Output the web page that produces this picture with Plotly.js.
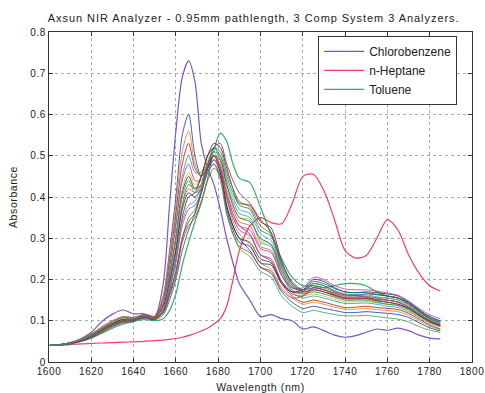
<!DOCTYPE html>
<html>
<head>
<meta charset="utf-8">
<script src="https://cdn.plot.ly/plotly-3.0.1.min.js"></script>
<style>
html,body{margin:0;padding:0;background:#fff;}
#chart{width:485px;height:393px;}
#chart text{letter-spacing:0.6px;}
#chart .gtitle{letter-spacing:0.95px;}
#chart .legendtext{letter-spacing:0;}
</style>
</head>
<body>
<div id="chart"></div>
<script>
// Wavelength grid (nm)
const wavelength = [1600,1605,1610,1615,1620,1625,1630,1635,1640,1645,1650,1654,1657,1660,1663,1666,1669,1672,1675,1678,1681,1684,1687,1690,1695,1700,1705,1710,1715,1720,1725,1730,1735,1740,1745,1750,1755,1760,1765,1770,1775,1780,1785];

// Pure components
const chlorobenzene = [0.040,0.042,0.047,0.056,0.072,0.098,0.116,0.126,0.117,0.117,0.111,0.190,0.380,0.560,0.690,0.730,0.680,0.530,0.470,0.430,0.370,0.300,0.240,0.190,0.150,0.110,0.115,0.105,0.100,0.080,0.085,0.076,0.065,0.060,0.064,0.072,0.080,0.077,0.082,0.076,0.065,0.058,0.056];
const nHeptane = [0.040,0.041,0.042,0.044,0.045,0.046,0.047,0.048,0.049,0.050,0.052,0.053,0.055,0.057,0.060,0.064,0.069,0.075,0.082,0.092,0.105,0.135,0.200,0.270,0.330,0.350,0.338,0.335,0.385,0.450,0.455,0.415,0.345,0.270,0.252,0.258,0.300,0.345,0.320,0.260,0.215,0.185,0.172];
const toluene = [0.040,0.041,0.044,0.050,0.058,0.070,0.082,0.092,0.098,0.103,0.100,0.105,0.125,0.165,0.235,0.290,0.340,0.385,0.445,0.515,0.555,0.535,0.480,0.445,0.435,0.375,0.310,0.250,0.205,0.185,0.185,0.180,0.185,0.190,0.190,0.185,0.170,0.160,0.155,0.145,0.125,0.105,0.095];

// Mixture spectra
const mix01 = [0.040,0.042,0.047,0.055,0.068,0.085,0.100,0.110,0.108,0.115,0.110,0.160,0.270,0.400,0.550,0.600,0.500,0.450,0.470,0.500,0.460,0.380,0.330,0.300,0.270,0.230,0.215,0.170,0.145,0.130,0.135,0.130,0.125,0.120,0.120,0.122,0.120,0.118,0.115,0.108,0.095,0.083,0.075];
const mix02 = [0.040,0.042,0.047,0.055,0.068,0.085,0.100,0.110,0.108,0.115,0.110,0.160,0.260,0.380,0.510,0.560,0.480,0.450,0.480,0.510,0.470,0.400,0.340,0.310,0.285,0.240,0.225,0.180,0.155,0.140,0.145,0.140,0.133,0.128,0.128,0.130,0.127,0.125,0.122,0.113,0.100,0.087,0.078];
const mix03 = [0.040,0.042,0.046,0.054,0.066,0.082,0.097,0.107,0.106,0.114,0.109,0.150,0.245,0.360,0.480,0.530,0.470,0.450,0.480,0.500,0.470,0.410,0.360,0.330,0.310,0.260,0.245,0.190,0.160,0.145,0.150,0.145,0.138,0.132,0.133,0.135,0.132,0.130,0.127,0.118,0.104,0.090,0.080];
const mix04 = [0.040,0.042,0.046,0.053,0.064,0.079,0.093,0.103,0.104,0.112,0.108,0.140,0.230,0.340,0.450,0.500,0.460,0.460,0.500,0.520,0.490,0.430,0.390,0.360,0.350,0.290,0.280,0.210,0.170,0.155,0.160,0.155,0.148,0.142,0.142,0.143,0.140,0.135,0.132,0.122,0.108,0.094,0.085];
const mix05 = [0.040,0.042,0.046,0.053,0.064,0.079,0.093,0.103,0.104,0.112,0.108,0.140,0.225,0.330,0.440,0.480,0.440,0.440,0.480,0.500,0.470,0.400,0.350,0.320,0.305,0.260,0.250,0.195,0.165,0.160,0.175,0.170,0.160,0.153,0.153,0.155,0.152,0.150,0.145,0.132,0.115,0.100,0.090];
const mix06 = [0.040,0.042,0.046,0.053,0.064,0.079,0.093,0.103,0.104,0.112,0.108,0.138,0.215,0.310,0.420,0.460,0.430,0.450,0.490,0.510,0.490,0.420,0.380,0.350,0.345,0.295,0.285,0.215,0.175,0.160,0.165,0.160,0.152,0.146,0.146,0.147,0.143,0.140,0.136,0.125,0.110,0.096,0.086];
const mix07 = [0.040,0.042,0.046,0.053,0.064,0.079,0.093,0.103,0.104,0.112,0.108,0.138,0.210,0.300,0.410,0.450,0.420,0.430,0.470,0.490,0.460,0.380,0.330,0.300,0.290,0.250,0.240,0.195,0.170,0.170,0.190,0.185,0.172,0.163,0.162,0.165,0.163,0.160,0.155,0.140,0.122,0.105,0.095];
const mix08 = [0.040,0.041,0.045,0.051,0.061,0.075,0.088,0.098,0.101,0.108,0.104,0.125,0.185,0.270,0.380,0.430,0.420,0.450,0.500,0.520,0.500,0.450,0.410,0.380,0.370,0.320,0.305,0.230,0.185,0.165,0.170,0.165,0.157,0.150,0.150,0.150,0.145,0.140,0.137,0.127,0.112,0.097,0.087];
const mix09 = [0.040,0.042,0.046,0.053,0.064,0.079,0.093,0.103,0.104,0.112,0.108,0.135,0.200,0.280,0.380,0.420,0.410,0.430,0.480,0.500,0.480,0.410,0.370,0.340,0.330,0.280,0.270,0.210,0.175,0.165,0.180,0.175,0.165,0.157,0.157,0.158,0.156,0.155,0.150,0.136,0.118,0.102,0.092];
const mix10 = [0.040,0.042,0.046,0.053,0.064,0.079,0.093,0.103,0.104,0.112,0.108,0.135,0.195,0.270,0.370,0.410,0.400,0.420,0.460,0.480,0.450,0.370,0.320,0.290,0.280,0.240,0.235,0.190,0.170,0.175,0.200,0.195,0.180,0.170,0.168,0.170,0.168,0.165,0.160,0.145,0.127,0.110,0.100];
const mix11 = [0.040,0.041,0.045,0.051,0.061,0.075,0.088,0.098,0.101,0.108,0.104,0.122,0.175,0.250,0.350,0.400,0.410,0.450,0.500,0.530,0.520,0.470,0.420,0.385,0.380,0.340,0.325,0.245,0.190,0.170,0.175,0.170,0.162,0.155,0.155,0.154,0.148,0.145,0.140,0.130,0.114,0.099,0.088];
const mix12 = [0.040,0.042,0.046,0.053,0.063,0.078,0.091,0.101,0.103,0.110,0.106,0.128,0.180,0.250,0.340,0.380,0.390,0.430,0.480,0.510,0.500,0.440,0.400,0.370,0.360,0.310,0.295,0.225,0.185,0.175,0.190,0.185,0.173,0.165,0.163,0.163,0.158,0.155,0.150,0.137,0.120,0.104,0.095];
const mix13 = [0.040,0.042,0.046,0.053,0.063,0.078,0.091,0.101,0.103,0.110,0.106,0.128,0.175,0.240,0.330,0.370,0.380,0.410,0.460,0.490,0.470,0.400,0.350,0.330,0.320,0.275,0.265,0.210,0.180,0.180,0.205,0.200,0.185,0.177,0.175,0.175,0.172,0.167,0.162,0.148,0.130,0.114,0.105];
const mix14 = [0.040,0.041,0.045,0.051,0.061,0.075,0.088,0.098,0.101,0.108,0.104,0.120,0.165,0.220,0.300,0.350,0.370,0.420,0.480,0.520,0.510,0.460,0.420,0.390,0.375,0.330,0.310,0.235,0.190,0.175,0.185,0.180,0.170,0.163,0.162,0.160,0.155,0.150,0.145,0.133,0.117,0.100,0.090];
const mix15 = [0.040,0.042,0.046,0.052,0.062,0.077,0.090,0.100,0.102,0.109,0.105,0.122,0.165,0.220,0.300,0.340,0.360,0.410,0.470,0.500,0.490,0.430,0.380,0.350,0.340,0.300,0.285,0.220,0.180,0.175,0.195,0.190,0.178,0.170,0.168,0.168,0.164,0.160,0.155,0.142,0.124,0.108,0.098];
const mix16 = [0.040,0.042,0.046,0.052,0.062,0.077,0.090,0.100,0.102,0.109,0.105,0.120,0.160,0.210,0.290,0.330,0.350,0.390,0.440,0.470,0.450,0.360,0.310,0.280,0.265,0.230,0.220,0.175,0.155,0.160,0.180,0.175,0.163,0.155,0.153,0.153,0.152,0.150,0.145,0.132,0.115,0.100,0.090];
const mix17 = [0.040,0.041,0.044,0.050,0.059,0.072,0.085,0.095,0.099,0.106,0.102,0.115,0.150,0.200,0.270,0.320,0.360,0.410,0.470,0.520,0.530,0.480,0.440,0.410,0.385,0.345,0.315,0.240,0.195,0.175,0.180,0.175,0.167,0.160,0.160,0.157,0.150,0.145,0.140,0.130,0.113,0.098,0.088];
const mix18 = [0.040,0.042,0.046,0.054,0.066,0.082,0.097,0.107,0.106,0.113,0.108,0.140,0.210,0.300,0.400,0.440,0.410,0.420,0.460,0.480,0.440,0.360,0.310,0.275,0.255,0.220,0.205,0.160,0.135,0.120,0.125,0.120,0.115,0.112,0.112,0.113,0.110,0.107,0.104,0.097,0.086,0.077,0.072];

const mixtures = [mix01,mix02,mix03,mix04,mix05,mix06,mix07,mix08,mix09,mix10,mix11,mix12,mix13,mix14,mix15,mix16,mix17,mix18];
const pureNames = ['Chlorobenzene','n-Heptane','Toluene'];
const pureSeries = [chlorobenzene, nHeptane, toluene];
const pureColors = ['#7a55c4','#ee3f63','#2fb060'];
const mixColors = ['#1f3fbf','#d98b1a','#c0182f','#19a8b8','#b52fb0','#c9c21a','#333333','#2a8a3a','#e0602a','#203080','#8a1530','#3a9ad9','#d23c8e','#7a7a10','#0f6f6f','#b04a10','#5040a0','#3f9f6f'];

const xTicks = [1600,1620,1640,1660,1680,1700,1720,1740,1760,1780,1800];
const yTicks = [0,0.1,0.2,0.3,0.4,0.5,0.6,0.7,0.8];
const yTickText = ['0','0.1','0.2','0.3','0.4','0.5','0.6','0.7','0.8'];

const traces = [];
pureSeries.forEach((s,i)=>{
  traces.push({x:wavelength, y:s, type:'scatter', mode:'lines', name:pureNames[i],
    line:{color:pureColors[i], width:1.2, shape:'spline', smoothing:0.8}});
});
mixtures.forEach((s,i)=>{
  traces.push({x:wavelength, y:s, type:'scatter', mode:'lines', showlegend:false, hoverinfo:'skip',
    line:{color:mixColors[i % mixColors.length], width:1, shape:'spline', smoothing:0.8}, opacity:0.85});
});

const font = {family:'"Liberation Sans", Arial, sans-serif', color:'#222', size:10};
const layout = {
  width:485, height:393,
  margin:{l:49, r:13, t:32, b:31},
  paper_bgcolor:'#fff', plot_bgcolor:'#fff',
  font: font,
  showlegend:true,
  title:{text:'Axsun NIR Analyzer - 0.95mm pathlength, 3 Comp System 3 Analyzers.', x:0.523, xanchor:'center', y:0.955, yanchor:'middle', font:{family:font.family, size:11, color:'#222'}},
  xaxis:{range:[1600,1800], tickmode:'array', tickvals:xTicks, ticktext:xTicks.map(String),
    ticks:'inside', ticklen:4, tickcolor:'#333', mirror:'allticks', showline:true, linecolor:'#333', linewidth:1,
    showgrid:true, gridcolor:'#aaa', griddash:'dot', gridwidth:1, zeroline:false,
    title:{text:'Wavelength (nm)', standoff:7, font:{size:10.5}}, automargin:false, tickfont:{size:10}},
  yaxis:{range:[0,0.8], tickmode:'array', tickvals:yTicks, ticktext:yTickText,
    ticks:'inside', ticklen:4, tickcolor:'#333', mirror:'allticks', showline:true, linecolor:'#333', linewidth:1,
    showgrid:true, gridcolor:'#aaa', griddash:'dot', gridwidth:1, zeroline:false,
    title:{text:'Absorbance', standoff:12, font:{size:10.5}}, automargin:false, tickfont:{size:10}},
  legend:{x:0.965, xanchor:'right', y:0.988, yanchor:'top', bgcolor:'#fff', bordercolor:'#333', borderwidth:1,
    font:{size:12, color:'#222'}, tracegroupgap:0, itemwidth:40}
};
Plotly.newPlot('chart', traces, layout, {displayModeBar:false, staticPlot:true});
</script>
</body>
</html>
